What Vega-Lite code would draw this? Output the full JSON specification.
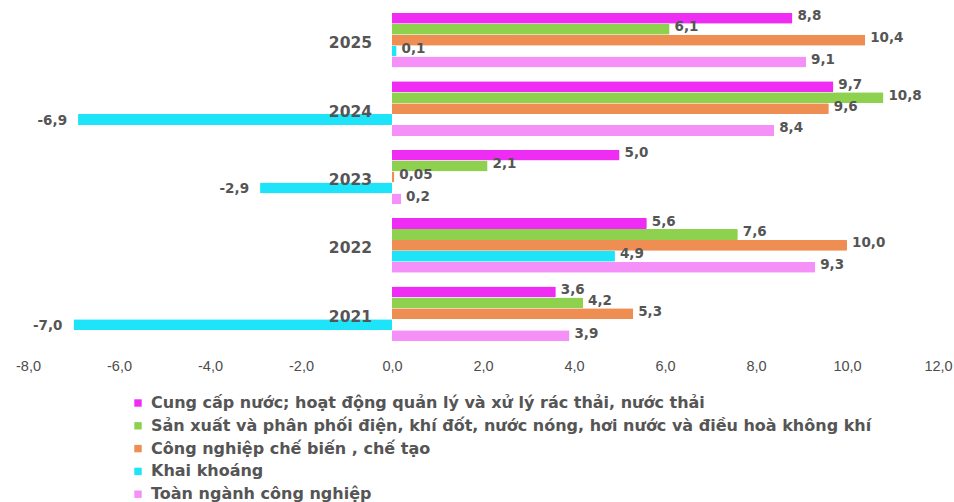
{
  "$schema": "https://vega.github.io/schema/vega-lite/v6.json",
  "width": 910,
  "height": 342,
  "autosize": "none",
  "padding": {"left": 28, "top": 6, "right": 16, "bottom": 154},
  "background": "white",
  "config": {
    "view": {"stroke": null},
    "font": "DejaVu Sans"
  },
  "data": {
    "values": [
      {"year": "2025", "series": "Cung cấp nước; hoạt động quản lý và xử lý rác thải, nước thải", "v": 8.8, "label": "8,8"},
      {"year": "2025", "series": "Sản xuất và phân phối điện, khí đốt, nước nóng, hơi nước và điều hoà không khí", "v": 6.1, "label": "6,1"},
      {"year": "2025", "series": "Công nghiệp chế biến , chế tạo", "v": 10.4, "label": "10,4"},
      {"year": "2025", "series": "Khai khoáng", "v": 0.1, "label": "0,1"},
      {"year": "2025", "series": "Toàn ngành công nghiệp", "v": 9.1, "label": "9,1"},
      {"year": "2024", "series": "Cung cấp nước; hoạt động quản lý và xử lý rác thải, nước thải", "v": 9.7, "label": "9,7"},
      {"year": "2024", "series": "Sản xuất và phân phối điện, khí đốt, nước nóng, hơi nước và điều hoà không khí", "v": 10.8, "label": "10,8"},
      {"year": "2024", "series": "Công nghiệp chế biến , chế tạo", "v": 9.6, "label": "9,6"},
      {"year": "2024", "series": "Khai khoáng", "v": -6.9, "label": "-6,9"},
      {"year": "2024", "series": "Toàn ngành công nghiệp", "v": 8.4, "label": "8,4"},
      {"year": "2023", "series": "Cung cấp nước; hoạt động quản lý và xử lý rác thải, nước thải", "v": 5.0, "label": "5,0"},
      {"year": "2023", "series": "Sản xuất và phân phối điện, khí đốt, nước nóng, hơi nước và điều hoà không khí", "v": 2.1, "label": "2,1"},
      {"year": "2023", "series": "Công nghiệp chế biến , chế tạo", "v": 0.05, "label": "0,05"},
      {"year": "2023", "series": "Khai khoáng", "v": -2.9, "label": "-2,9"},
      {"year": "2023", "series": "Toàn ngành công nghiệp", "v": 0.2, "label": "0,2"},
      {"year": "2022", "series": "Cung cấp nước; hoạt động quản lý và xử lý rác thải, nước thải", "v": 5.6, "label": "5,6"},
      {"year": "2022", "series": "Sản xuất và phân phối điện, khí đốt, nước nóng, hơi nước và điều hoà không khí", "v": 7.6, "label": "7,6"},
      {"year": "2022", "series": "Công nghiệp chế biến , chế tạo", "v": 10.0, "label": "10,0"},
      {"year": "2022", "series": "Khai khoáng", "v": 4.9, "label": "4,9"},
      {"year": "2022", "series": "Toàn ngành công nghiệp", "v": 9.3, "label": "9,3"},
      {"year": "2021", "series": "Cung cấp nước; hoạt động quản lý và xử lý rác thải, nước thải", "v": 3.6, "label": "3,6"},
      {"year": "2021", "series": "Sản xuất và phân phối điện, khí đốt, nước nóng, hơi nước và điều hoà không khí", "v": 4.2, "label": "4,2"},
      {"year": "2021", "series": "Công nghiệp chế biến , chế tạo", "v": 5.3, "label": "5,3"},
      {"year": "2021", "series": "Khai khoáng", "v": -7.0, "label": "-7,0"},
      {"year": "2021", "series": "Toàn ngành công nghiệp", "v": 3.9, "label": "3,9"}
    ]
  },
  "encoding": {
    "y": {
      "field": "year", "type": "nominal", "sort": "descending",
      "scale": {"paddingInner": 0.2, "paddingOuter": 0.1},
      "axis": null
    }
  },
  "layer": [
    {
      "mark": {"type": "bar", "cornerRadiusEnd": 1},
      "encoding": {
        "x": {
          "field": "v", "type": "quantitative",
          "scale": {"domain": [-8, 12], "nice": false, "zero": false},
          "axis": {
            "values": [-8, -6, -4, -2, 0, 2, 4, 6, 8, 10, 12],
            "labelExpr": "replace(replace(format(datum.value, '.1f'), '.', ','), '\u2212', '-')",
            "title": null, "grid": false, "domain": false, "ticks": false,
            "labelPadding": 11, "labelFontSize": 14.5, "labelColor": "#4d4d4d",
            "labelFont": "Liberation Sans", "labelFlush": false
          }
        },
        "yOffset": {
          "field": "series", "type": "nominal",
          "sort": ["Cung cấp nước; hoạt động quản lý và xử lý rác thải, nước thải", "Sản xuất và phân phối điện, khí đốt, nước nóng, hơi nước và điều hoà không khí", "Công nghiệp chế biến , chế tạo", "Khai khoáng", "Toàn ngành công nghiệp"]
        },
        "color": {
          "field": "series", "type": "nominal",
          "scale": {
            "domain": ["Cung cấp nước; hoạt động quản lý và xử lý rác thải, nước thải", "Sản xuất và phân phối điện, khí đốt, nước nóng, hơi nước và điều hoà không khí", "Công nghiệp chế biến , chế tạo", "Khai khoáng", "Toàn ngành công nghiệp"],
            "range": ["#EE2CF3", "#8ED14F", "#EE8E52", "#1EE4F9", "#F590F8"]
          },
          "legend": {
            "title": null, "orient": "none", "legendX": 102, "legendY": 389,
            "direction": "vertical", "symbolType": "square", "symbolSize": 55,
            "labelFontSize": 16, "labelFont": "DejaVu Sans", "labelFontWeight": "bold",
            "labelColor": "#555555", "labelLimit": 900, "rowPadding": 6.8, "labelOffset": 5
          }
        }
      }
    },
    {
      "transform": [{"filter": "datum.v >= 0"}],
      "mark": {"type": "text", "align": "left", "baseline": "middle", "dx": 5, "dy": -2, "fontSize": 13.5, "fontWeight": "bold", "color": "#555555"},
      "encoding": {
        "x": {"field": "v", "type": "quantitative"},
        "yOffset": {"field": "series", "type": "nominal", "sort": ["Cung cấp nước; hoạt động quản lý và xử lý rác thải, nước thải", "Sản xuất và phân phối điện, khí đốt, nước nóng, hơi nước và điều hoà không khí", "Công nghiệp chế biến , chế tạo", "Khai khoáng", "Toàn ngành công nghiệp"]},
        "text": {"field": "label"}
      }
    },
    {
      "transform": [{"filter": "datum.v < 0"}],
      "mark": {"type": "text", "align": "right", "baseline": "middle", "dx": -11, "dy": 1, "fontSize": 13.5, "fontWeight": "bold", "color": "#555555"},
      "encoding": {
        "x": {"field": "v", "type": "quantitative"},
        "yOffset": {"field": "series", "type": "nominal", "sort": ["Cung cấp nước; hoạt động quản lý và xử lý rác thải, nước thải", "Sản xuất và phân phối điện, khí đốt, nước nóng, hơi nước và điều hoà không khí", "Công nghiệp chế biến , chế tạo", "Khai khoáng", "Toàn ngành công nghiệp"]},
        "text": {"field": "label"}
      }
    },
    {
      "transform": [{"filter": "datum.series == 'Khai khoáng'"}],
      "mark": {"type": "text", "align": "right", "baseline": "middle", "dx": -20, "dy": 3, "fontSize": 15.5, "fontWeight": "bold", "color": "#555555"},
      "encoding": {
        "x": {"datum": 0, "type": "quantitative"},
        "text": {"field": "year"}
      }
    }
  ]
}
